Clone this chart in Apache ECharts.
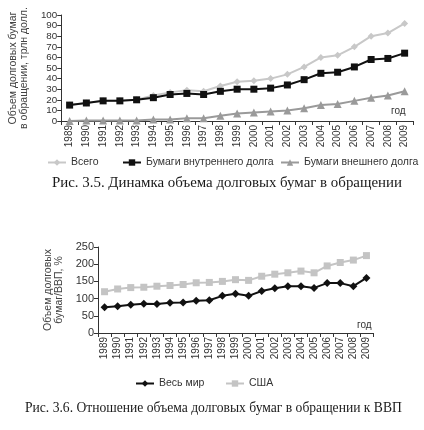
<!DOCTYPE html>
<html><head><meta charset="utf-8">
<script src="https://cdn.jsdelivr.net/npm/echarts@6/dist/echarts.min.js"></script>
<style>html,body{margin:0;padding:0;background:#fff}#c{width:424px;height:430px}</style>
</head><body><div id="c"></div>
<script>
const years = ['1989','1990','1991','1992','1993','1994','1995','1996','1997','1998','1999','2000','2001','2002','2003','2004','2005','2006','2007','2008','2009'];
const total = [15,17,19,19,20,24,27,29,28,33,37,38,40,44,51,60,62,70,80,83,92];
const domestic = [15,17,19,19,20,22,25,26,25,28,30,30,31,34,39,45,46,51,58,59,64];
const foreign = [0,0.5,0.5,0.5,0.5,1.5,1.5,2.5,2.5,5,7,8,9,10,12,15,16,19,22,24,28];
const world = [75,78,82,85,84,88,89,94,95,108,114,108,122,130,136,136,131,145,145,136,160];
const usa = [120,128,132,133,136,138,141,146,147,150,155,153,165,171,175,180,175,195,205,212,225];
const ticks1 = [0,10,20,30,40,50,60,70,80,90,100];
const ticks2 = [0,50,100,150,200,250];

const axisCol = '#333';
const sans = 'Liberation Sans, Arial, sans-serif';
const serif = 'Liberation Serif, DejaVu Serif, serif';
const chart = echarts.init(document.getElementById('c'));
function xAx(gi){return {type:'category',gridIndex:gi,data:years,boundaryGap:true,
  axisLine:{lineStyle:{color:axisCol,width:1}},axisTick:{show:true,length:4,lineStyle:{color:axisCol}},
  axisLabel:{rotate:90,fontSize:10,color:'#333',fontFamily:sans,interval:0,margin:4,hideOverlap:false}};}
function yAx(gi,t,name,gap,fs,lfs){return {type:'value',gridIndex:gi,min:t[0],max:t[t.length-1],interval:t[1]-t[0],
  name:name,nameLocation:'middle',nameGap:gap,nameRotate:90,nameTextStyle:{fontSize:fs,color:'#444',fontFamily:sans,lineHeight:11},
  splitLine:{show:false},axisLine:{show:true,lineStyle:{color:axisCol}},axisTick:{show:true,length:4,lineStyle:{color:axisCol}},
  axisLabel:{fontSize:lfs,lineHeight:lfs,color:'#333',fontFamily:sans,margin:4,showMinLabel:true,showMaxLabel:true,hideOverlap:false}};}
const legText = {fontSize:10.5,color:'#333',fontFamily:sans};
function leg(names,left,top){return {data:names,left:left,top:top,padding:0,itemWidth:18,itemHeight:8,itemGap:20,textStyle:legText};}
chart.setOption({
  animation:false,
  backgroundColor:'#fff',
  grid:[{left:50,right:11,top:15,height:106},{left:98,right:51,top:247,height:86}],
  xAxis:[xAx(0),xAx(1)],
  yAxis:[yAx(0,ticks1,'Объем долговых бумаг\nв обращении, трлн долл.',28,10.5,9.8),yAx(1,ticks2,'Объем долговых\nбумаг/ВВП, %',31,10.5,11)],
  legend:[
    leg(['Всего'],47,157),
    leg(['Бумаги внутреннего долга'],122,157),
    leg(['Бумаги внешнего долга'],280,157),
    leg(['Весь мир'],135,378),
    leg(['США'],225,378)
  ],
  series:[
    {name:'Всего',type:'line',xAxisIndex:0,yAxisIndex:0,data:total,symbol:'diamond',symbolSize:7,
     itemStyle:{color:'#c8c8c8'},lineStyle:{color:'#c8c8c8',width:2},z:1},
    {name:'Бумаги внешнего долга',type:'line',xAxisIndex:0,yAxisIndex:0,data:foreign,symbol:'triangle',symbolSize:8,
     itemStyle:{color:'#9a9a9a'},lineStyle:{color:'#9a9a9a',width:2},z:2},
    {name:'Бумаги внутреннего долга',type:'line',xAxisIndex:0,yAxisIndex:0,data:domestic,symbol:'rect',symbolSize:7,
     itemStyle:{color:'#111'},lineStyle:{color:'#111',width:2},z:3},
    {name:'Весь мир',type:'line',xAxisIndex:1,yAxisIndex:1,data:world,symbol:'diamond',symbolSize:8,
     itemStyle:{color:'#111'},lineStyle:{color:'#111',width:2},z:3},
    {name:'США',type:'line',xAxisIndex:1,yAxisIndex:1,data:usa,symbol:'rect',symbolSize:7,
     itemStyle:{color:'#c4c4c4'},lineStyle:{color:'#c4c4c4',width:2},z:1}
  ],
  graphic:[
    {type:'text',left:391,top:106,style:{text:'год',fontSize:10,fill:'#333',fontFamily:sans}},
    {type:'text',left:357,top:320,style:{text:'год',fontSize:10,fill:'#333',fontFamily:sans}},
    {type:'text',left:52,top:176,style:{text:'Рис. 3.5. Динамка объема долговых бумаг в обращении',fontSize:14.9,fill:'#1a1a1a',fontFamily:serif}},
    {type:'text',left:25,top:401,style:{text:'Рис. 3.6. Отношение объема долговых бумаг в обращении к ВВП',fontSize:13.6,fill:'#1a1a1a',fontFamily:serif}}
  ]
});
</script></body></html>
